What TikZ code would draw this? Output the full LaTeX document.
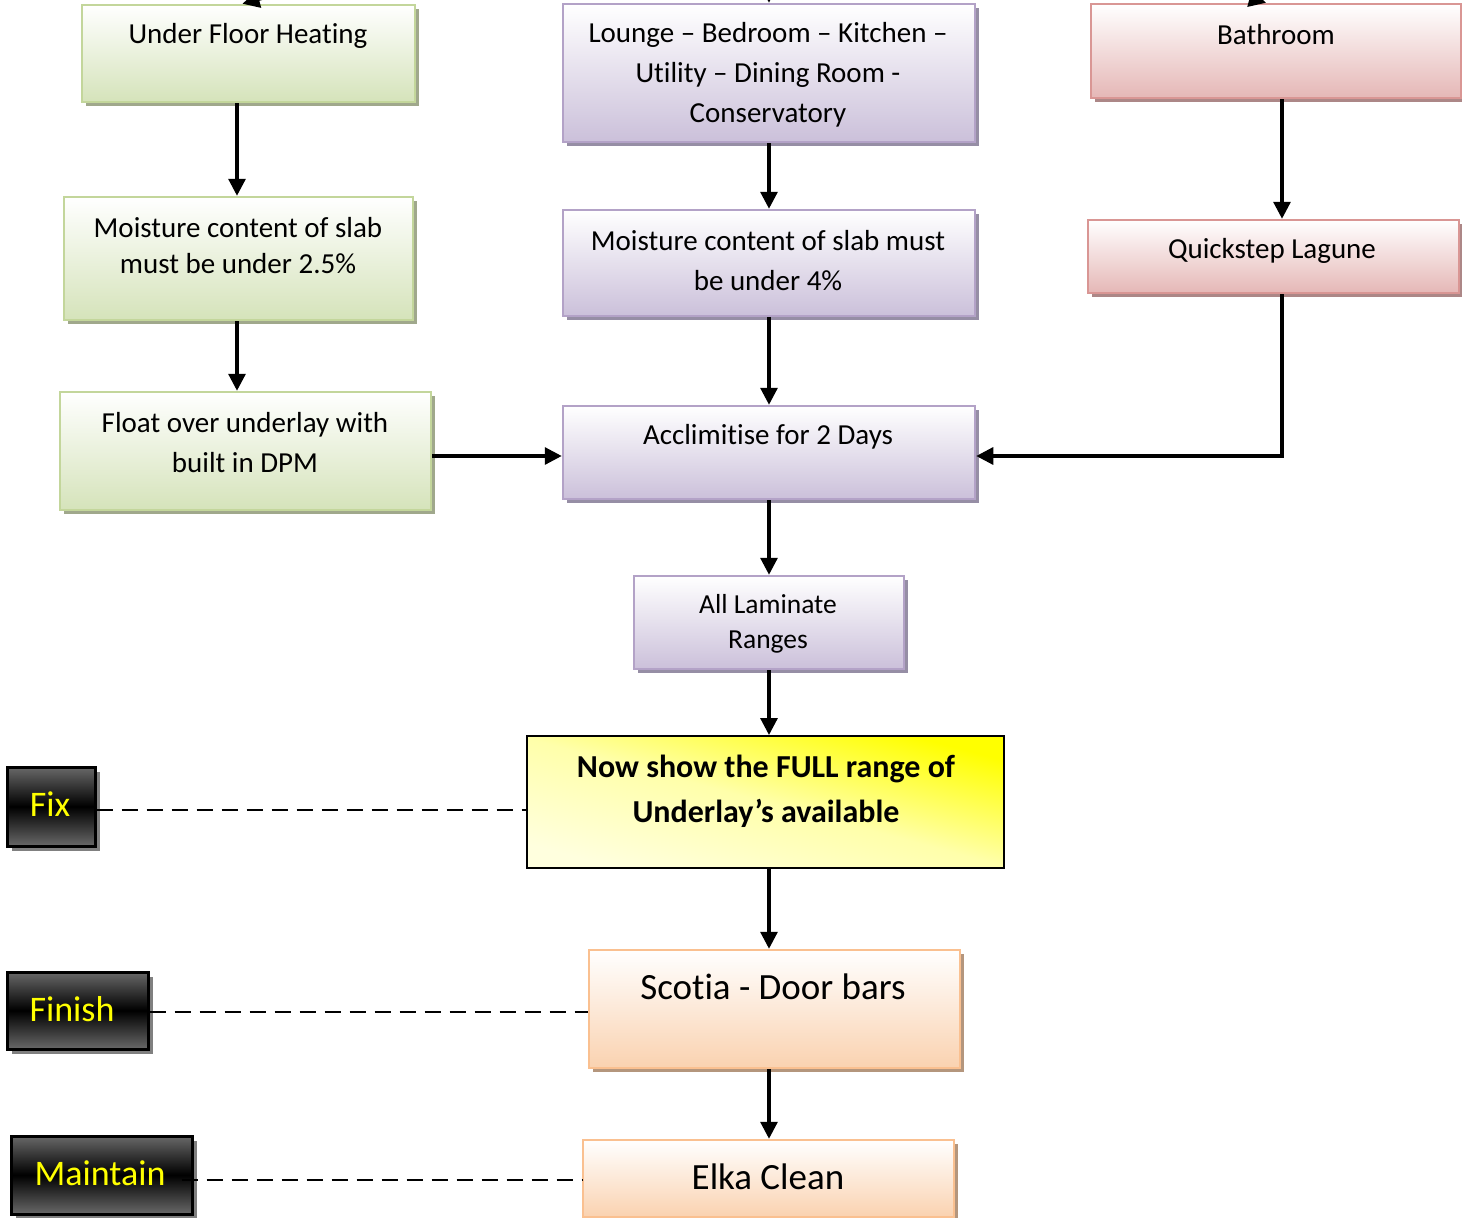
\documentclass[tikz,border=0pt]{standalone}
\usepackage{fontspec}
\setmainfont{Carlito}[Ligatures=NoCommon]
\usetikzlibrary{arrows.meta,shadows}
\definecolor{gbord}{RGB}{195,214,155}
\definecolor{gfill}{RGB}{213,227,186}
\definecolor{gshad}{RGB}{160,168,140}
\definecolor{pbord}{RGB}{179,162,199}
\definecolor{pfill}{RGB}{203,192,218}
\definecolor{pshad}{RGB}{150,142,165}
\definecolor{rbord}{RGB}{217,150,148}
\definecolor{rfill}{RGB}{229,183,182}
\definecolor{rshad}{RGB}{172,135,135}
\definecolor{obord}{RGB}{250,192,144}
\definecolor{ofill}{RGB}{250,210,176}
\definecolor{oshad}{RGB}{180,150,125}
\definecolor{ypale}{RGB}{255,255,222}
\definecolor{ymid}{RGB}{255,255,170}
\definecolor{yfull}{RGB}{255,255,0}
\definecolor{dgray}{RGB}{104,104,104}
\definecolor{dshad}{RGB}{128,128,128}
\definecolor{ytext}{RGB}{255,255,0}
\begin{document}
\begin{tikzpicture}[x=1pt,y=-1pt,
  pastel/.style={rectangle, inner sep=0pt, line width=2.5pt, top color=white},
  gbox/.style={pastel, draw=gbord, bottom color=gfill,
    drop shadow={shadow xshift=4pt, shadow yshift=-4pt, fill=gshad, opacity=1}},
  pbox/.style={pastel, draw=pbord, bottom color=pfill,
    drop shadow={shadow xshift=4pt, shadow yshift=-4pt, fill=pshad, opacity=1}},
  rbox/.style={pastel, draw=rbord, bottom color=rfill,
    drop shadow={shadow xshift=4pt, shadow yshift=-4pt, fill=rshad, opacity=1}},
  obox/.style={pastel, draw=obord, bottom color=ofill,
    drop shadow={shadow xshift=4pt, shadow yshift=-4pt, fill=oshad, opacity=1}},
  darkbox/.style={rectangle, inner sep=0pt, draw=black, line width=3pt,
    top color=dgray, bottom color=dgray, middle color=black,
    drop shadow={shadow xshift=5pt, shadow yshift=-5pt, fill=dshad, opacity=1}},
  ybox/.style={rectangle, inner sep=0pt, draw=black, line width=2pt,
    shading=axis, top color=ypale, bottom color=yfull, middle color=ymid, shading angle=165},
  txt/.style={inner sep=0pt, align=center, text=black, font=\fontsize{29}{40}\selectfont},
  darktxt/.style={inner sep=0pt, text=ytext, font=\fontsize{36}{40}\selectfont},
  arr/.style={line width=3.2pt, -{Triangle[length=17pt,width=17pt]}},
  dashlink/.style={line width=2.3pt, dash pattern=on 16pt off 9pt}
]
\useasboundingbox (0,0) rectangle (1462,1218);
\fill[white] (0,0) rectangle (1462,1218);

% boxes
\node[gbox, minimum width=333pt, minimum height=97pt] (ufh) at (248.5,53.5) {};
\node[pbox, minimum width=412pt, minimum height=138pt] (lounge) at (769,73) {};
\node[rbox, minimum width=370pt, minimum height=94pt] (bath) at (1276,51) {};
\node[gbox, minimum width=349pt, minimum height=123pt] (m25) at (238.5,258.5) {};
\node[pbox, minimum width=412pt, minimum height=106pt] (m4) at (769,263) {};
\node[rbox, minimum width=371pt, minimum height=73pt] (quick) at (1273.5,256.5) {};
\node[gbox, minimum width=371pt, minimum height=118pt] (float) at (245.5,451) {};
\node[pbox, minimum width=412pt, minimum height=93pt] (accl) at (769,452.5) {};
\node[pbox, minimum width=270pt, minimum height=93pt] (lam) at (769,622.5) {};
\node[ybox, minimum width=477pt, minimum height=132pt] (yel) at (765.5,802) {};
\node[obox, minimum width=371pt, minimum height=118pt] (scotia) at (774.5,1009) {};
\node[obox, minimum width=371pt, minimum height=77pt] (elka) at (768.5,1178.5) {};
\node[darkbox, minimum width=88pt, minimum height=79pt] (fix) at (51,806.5) {};
\node[darkbox, minimum width=141pt, minimum height=77pt] (finish) at (77.5,1010.5) {};
\node[darkbox, minimum width=181pt, minimum height=78pt] (maintain) at (101.5,1175) {};

% texts
\node[txt] (tufh) at (248,36) {Under Floor Heating};
\node[txt] (tlounge) at (768,75) {Lounge -- Bedroom -- Kitchen --\\Utility -- Dining Room -\\Conservatory};
\node[txt] (tbath) at (1276,35) {Bathroom};
\node[txt, font=\fontsize{29}{36}\selectfont] (tm25) at (238,246) {Moisture content of slab\\must be under 2.5\%};
\node[txt] (tm4) at (768,261) {Moisture content of slab must\\be under 4\%};
\node[txt] (tquick) at (1272,251) {Quickstep Lagune};
\node[txt] (tfloat) at (245,443) {Float over underlay with\\built in DPM};
\node[txt] (taccl) at (768,437) {Acclimitise for 2 Days};
\node[txt, font=\fontsize{27.5}{35}\selectfont] (tlam) at (768,624) {All Laminate\\Ranges};
\node[txt, font=\bfseries\fontsize{32}{45}\selectfont] (tyel) at (766,791) {Now show the FULL range of\\Underlay’s available};
\node[txt, font=\fontsize{37}{40}\selectfont] (tscot) at (773,987) {Scotia - Door bars};
\node[txt, font=\fontsize{37}{40}\selectfont] (telka) at (768,1177) {Elka Clean};
\node[darktxt] (tfix) at (50,804) {Fix};
\node[darktxt] (tfin) at (72,1009) {Finish};
\node[darktxt] (tmain) at (100,1173) {Maintain};

% arrows
\draw[arr] ([xshift=-11.5pt]ufh.south) -- ([xshift=-1.5pt]m25.north);
\draw[arr] ([xshift=-1.5pt]m25.south) -- ([xshift=-8.5pt]float.north);
\draw[arr] (lounge.south) -- (m4.north);
\draw[arr] (m4.south) -- (accl.north);
\draw[arr] ([xshift=6pt]bath.south) -- ([xshift=8.5pt]quick.north);
\draw[arr] ([xshift=8.5pt]quick.south) |- ([yshift=-3.5pt]accl.east);
\draw[arr] ([yshift=-5pt]float.east) -- ([yshift=-5pt]float.east -| accl.west);
\draw[arr] (accl.south) -- (lam.north);
\draw[arr] (lam.south) -- (lam.south |- yel.north);
\draw[arr] (yel.south -| lam.south) -- (lam.south |- scotia.north);
\draw[arr] (scotia.south -| lam.south) -- (lam.south |- elka.north);

% dashed links
\draw[dashlink] ([yshift=-3.5pt]fix.east) -- ([yshift=-3.5pt]fix.east -| yel.west);
\draw[dashlink] ([yshift=-1.5pt]finish.east) -- ([yshift=-1.5pt]finish.east -| scotia.west);
\draw[dashlink] ([xshift=-12pt,yshift=-5pt]maintain.east) -- ([yshift=-5pt]maintain.east -| elka.west);

% partially visible incoming arrows at the top edge
\begin{scope}
\clip (0,0) rectangle (1462,1218);
\coordinate (inL) at (420,-45);
\coordinate (inM) at (768,-60);
\coordinate (inR) at (1090,-45);
\draw[arr] (inL) -- ([xshift=-6pt]ufh.north);
\draw[arr] (inM) -- (lounge.north);
\draw[arr] (inR) -- ([xshift=-10pt]bath.north);
\end{scope}
\end{tikzpicture}
\end{document}
